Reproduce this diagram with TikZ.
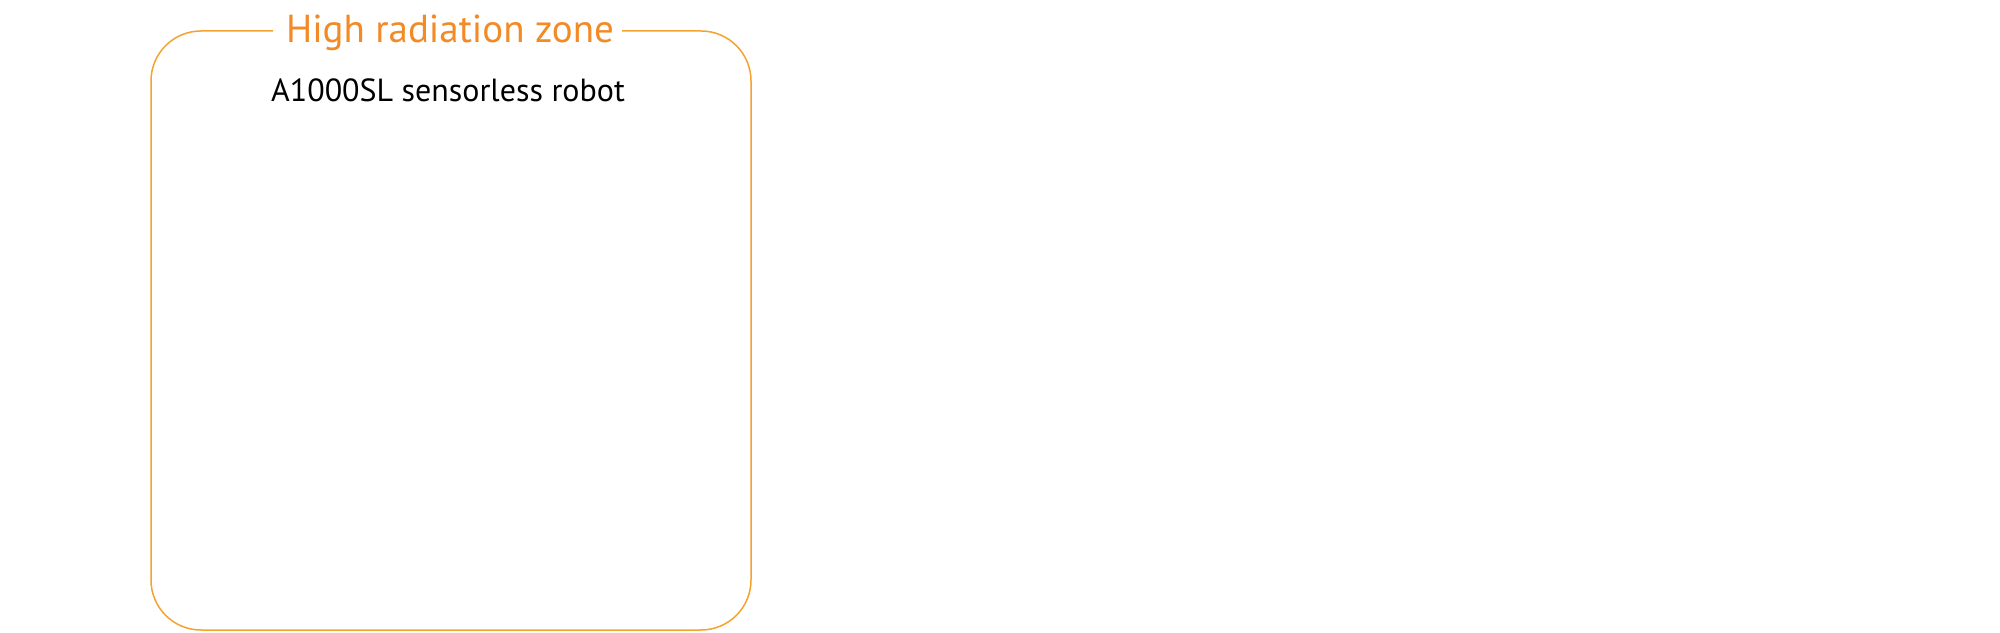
\documentclass[tikz,border=0pt]{standalone}
\usepackage{fontspec}
\setmainfont{PT Sans}
\begin{document}
\begin{tikzpicture}[x=1pt,y=1pt,
  zone/.style={draw=zoneline, line width=1.5pt},
  titletext/.style={text=zonetitle, font=\fontsize{39}{44}\selectfont, anchor=base, inner sep=0pt},
  robottext/.style={text=black, font=\fontsize{32}{36}\selectfont, anchor=base, inner sep=0pt}]
\definecolor{zoneline}{HTML}{F5A32E}
\definecolor{zonetitle}{HTML}{F28A26}
\useasboundingbox (0,0) rectangle (2000,632);
\fill[white] (0,0) rectangle (2000,632);
\draw[zone, rounded corners=50pt] (273,601) -- (151,601) -- (151,2) -- (751,2) -- (751,601) -- (622,601);
\node[titletext] (title) at (450,589) {High radiation zone};
\node[robottext] (robot) at (448,530) {A1000SL sensorless robot};
\end{tikzpicture}
\end{document}
